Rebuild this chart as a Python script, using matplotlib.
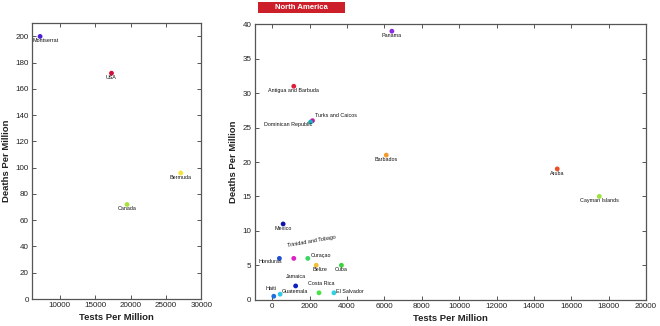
import numpy as np
import matplotlib.pyplot as plt

plt.rcParams['font.family'] = ['Liberation Sans', 'DejaVu Sans']

# left panel (high death countries)
left_names = ['Montserrat', 'USA', 'Bermuda', 'Canada']
left_tests = [7200, 17300, 27100, 19500]
left_deaths = [200, 172, 96, 72]
left_colors = ['#4b1fd6', '#d0103a', '#f2e43a', '#a8e23a']

# right panel
right_names = ['Panama', 'Antigua and Barbuda', 'Turks and Caicos', 'Dominican Republic',
               'Barbados', 'Aruba', 'Cayman Islands', 'Mexico', 'Honduras',
               'Trinidad and Tobago', 'Curaçao', 'Belize', 'Cuba', 'Jamaica',
               'Costa Rica', 'El Salvador', 'Guatemala', 'Haiti']
right_tests = [6400, 1150, 2150, 2050, 6100, 15250, 17500, 580, 380,
               1150, 1900, 2350, 3700, 1250, 2500, 3300, 420, 80]
right_deaths = [39, 31, 26, 25.8, 21, 19, 15, 11, 6,
                6, 6, 5, 5, 2, 1, 1, 0.8, 0.5]
right_colors = ['#8a2be2', '#e0203a', '#c0189a', '#1ab0c0', '#f29a2e', '#e8502a',
                '#9be23a', '#1010b0', '#1f4fd0', '#e020c0', '#3ad860', '#f2c030',
                '#3ad040', '#1020c0', '#4ae04a', '#30d0e0', '#30c8e8', '#1a70e0']

# label offsets in points (dx, dy, ha, rotation)
offs = {
    'Montserrat': (4, -3, 'center', 0), 'USA': (0, -3, 'center', 0),
    'Bermuda': (0, -3, 'center', 0), 'Canada': (0, -3, 'center', 0),
    'Panama': (0, -3, 'center', 0), 'Antigua and Barbuda': (0, -3, 'center', 0),
    'Turks and Caicos': (1.5, 3.5, 'left', 0), 'Dominican Republic': (1, -1.5, 'right', 0),
    'Barbados': (0, -3, 'center', 0), 'Aruba': (0, -3, 'center', 0),
    'Cayman Islands': (0, -3, 'center', 0), 'Mexico': (0, -3, 'center', 0),
    'Honduras': (2, -2.5, 'right', 0), 'Trinidad and Tobago': (13, 12, 'center', 10),
    'Curaçao': (2, 2, 'left', 0), 'Belize': (2.5, -2.7, 'center', 0),
    'Cuba': (0, -3, 'center', 0), 'Jamaica': (0, 6.5, 'center', 0),
    'Costa Rica': (1.5, 6.5, 'center', 0), 'El Salvador': (1.5, 1, 'left', 0),
    'Guatemala': (1.5, 2, 'left', 0), 'Haiti': (-2, 5.5, 'center', 0),
}

fig = plt.figure(figsize=(6.6, 3.26), dpi=100)
ax1 = fig.add_axes([32.3 / 660, 27 / 326, 169 / 660, 275.7 / 326])
ax2 = fig.add_axes([255 / 660, 26.3 / 326, 391 / 660, 275.4 / 326])


def style(ax, ypad):
    for s in ax.spines.values():
        s.set_color('#555555')
        s.set_linewidth(0.9)
    ax.tick_params(direction='in', top=True, right=True, labelsize=5.8,
                   length=3, width=0.7, color='#555555', labelcolor='#222222', pad=2.5)
    ax.set_xlabel('Tests Per Million', fontsize=6.8, fontweight='bold', labelpad=2.5,
                  color='#222222')
    ax.set_ylabel('Deaths Per Million', fontsize=6.8, fontweight='bold', labelpad=ypad,
                  color='#222222')


def draw(ax, names, xs, ys, cols):
    ax.scatter(xs, ys, s=12, c=cols, zorder=3, linewidths=0)
    for n, x, y in zip(names, xs, ys):
        dx, dy, ha, rot = offs[n]
        ax.annotate(n, (x, y), xytext=(dx, dy), textcoords='offset points',
                    fontsize=3.9, ha=ha, va='center', rotation=rot, color='#111111',
                    zorder=4)


draw(ax1, left_names, left_tests, left_deaths, left_colors)
ax1.set_xlim(6100, 30000)
ax1.set_ylim(0, 210)
ax1.set_xticks([10000, 15000, 20000, 25000, 30000])
ax1.set_yticks(np.arange(0, 201, 20))
style(ax1, 3)

draw(ax2, right_names, right_tests, right_deaths, right_colors)
ax2.set_xlim(-925, 20000)
ax2.set_ylim(0, 40)
ax2.set_xticks(np.arange(0, 20001, 2000))
ax2.set_yticks(np.arange(0, 41, 5))
style(ax2, 3)

fig.patches.append(plt.Rectangle((258 / 660, 1 - 13 / 326), 87 / 660, 11 / 326,
                                 transform=fig.transFigure, fc='#cc1f2a', ec='none'))
fig.text(301.5 / 660, 1 - 7.5 / 326, 'North America', fontsize=5.6, fontweight='bold',
         color='white', ha='center', va='center')

fig.savefig('out.png', dpi=100)
